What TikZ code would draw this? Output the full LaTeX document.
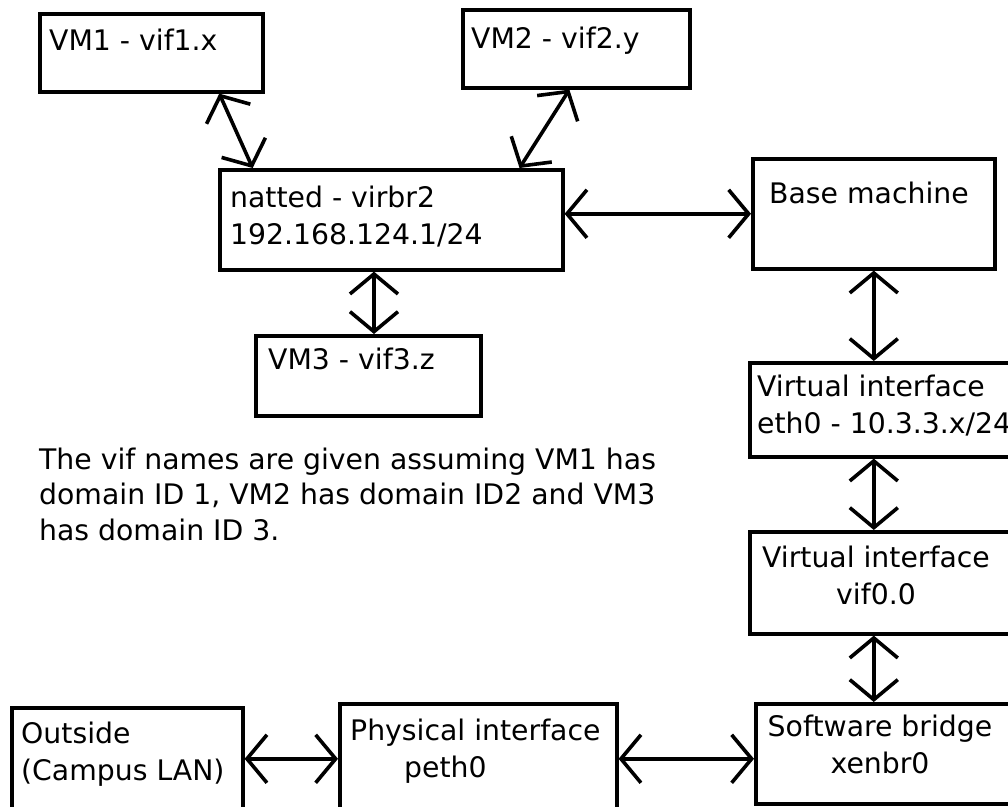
\documentclass[tikz,border=0pt]{standalone}
\usepackage{fontspec}
\setmainfont{DejaVu Sans}
\usetikzlibrary{arrows.meta,calc}

\begin{document}
\begin{tikzpicture}[x=1pt,y=-1pt,
  box/.style={draw,line width=3.6pt,inner sep=0pt,anchor=north west},
  lbl/.style={inner sep=0pt,align=left,font=\fontsize{28.3}{37}\selectfont},
  link/.style={line width=3.6pt,{Straight Barb[length=20pt,width=48pt]}-{Straight Barb[length=20pt,width=48pt]}}]
\useasboundingbox (0,0) rectangle (1008,806);

% boxes
\node[box,minimum width=223pt,minimum height=78pt] (vm1) at (38,12) {};
\node[box,minimum width=227pt,minimum height=78pt] (vm2) at (461,8) {};
\node[box,minimum width=343pt,minimum height=100pt] (natted) at (218,168) {};
\node[box,minimum width=225pt,minimum height=80pt] (vm3) at (254,334) {};
\node[box,minimum width=242pt,minimum height=110pt] (base) at (751,157) {};
\node[box,minimum width=270pt,minimum height=94pt] (eth0) at (748,361) {};
\node[box,minimum width=270pt,minimum height=102pt] (vif0) at (748,530) {};
\node[box,minimum width=264pt,minimum height=100pt] (bridge) at (754,702) {};
\node[box,minimum width=231pt,minimum height=110pt] (outside) at (10,706) {};
\node[box,minimum width=277pt,minimum height=110pt] (phys) at (338,702) {};

% texts (base = last line)
\node[lbl,anchor=base west] (vm1txt) at (49,50) {VM1 - vif1.x};
\node[lbl,anchor=base west] (vm2txt) at (471,48) {VM2 - vif2.y};
\node[lbl,anchor=base west] (nattedtxt) at (230,244) {natted - virbr2\\192.168.124.1/24};
\node[lbl,anchor=base west] (vm3txt) at (268,369) {VM3 - vif3.z};
\node[lbl,anchor=base west] (basetxt) at (769,203) {Base machine};
\node[lbl,anchor=base west] (eth0txt) at (757,433) {Virtual interface\\eth0 - 10.3.3.x/24};
\node[lbl,align=center,anchor=base] (vif0txt) at (876,604) {Virtual interface\\vif0.0};
\node[lbl,align=center,anchor=base] (bridgetxt) at (880,773) {Software bridge\\xenbr0};
\node[lbl,anchor=base west] (outsidetxt) at (21,780) {Outside\\(Campus LAN)};
\node[lbl,anchor=base west] (phystxt) at (350,777) {Physical interface\\\hspace*{54pt}peth0};
\node[lbl,anchor=base west,font=\fontsize{28.3}{35.5}\selectfont] (note) at (39,540)
  {The vif names are given assuming VM1 has\\domain ID 1, VM2 has domain ID2 and VM3\\has domain ID 3.};

% links
\draw[link] ($(vm1.south west)!0.8!(vm1.south east)$) -- ($(natted.north west)!0.1!(natted.north east)$);
\draw[link] ($(vm2.south west)!0.47!(vm2.south east)$) -- ($(natted.north west)!0.87!(natted.north east)$);
\draw[link] (base.west -| natted.east) -- (base.west);
\coordinate (n3) at ($(natted.south west)!0.45!(natted.south east)$);
\draw[link] (n3) -- (n3 |- vm3.north);
\draw[link] (base.south) -- (base.south |- eth0.north);
\draw[link] (eth0.south -| base.south) -- (vif0.north -| base.south);
\draw[link] (vif0.south -| base.south) -- (bridge.north -| base.south);
\draw[link] (phys.west -| outside.east) -- (phys.west);
\draw[link] (phys.east) -- (phys.east -| bridge.west);
\end{tikzpicture}
\end{document}
